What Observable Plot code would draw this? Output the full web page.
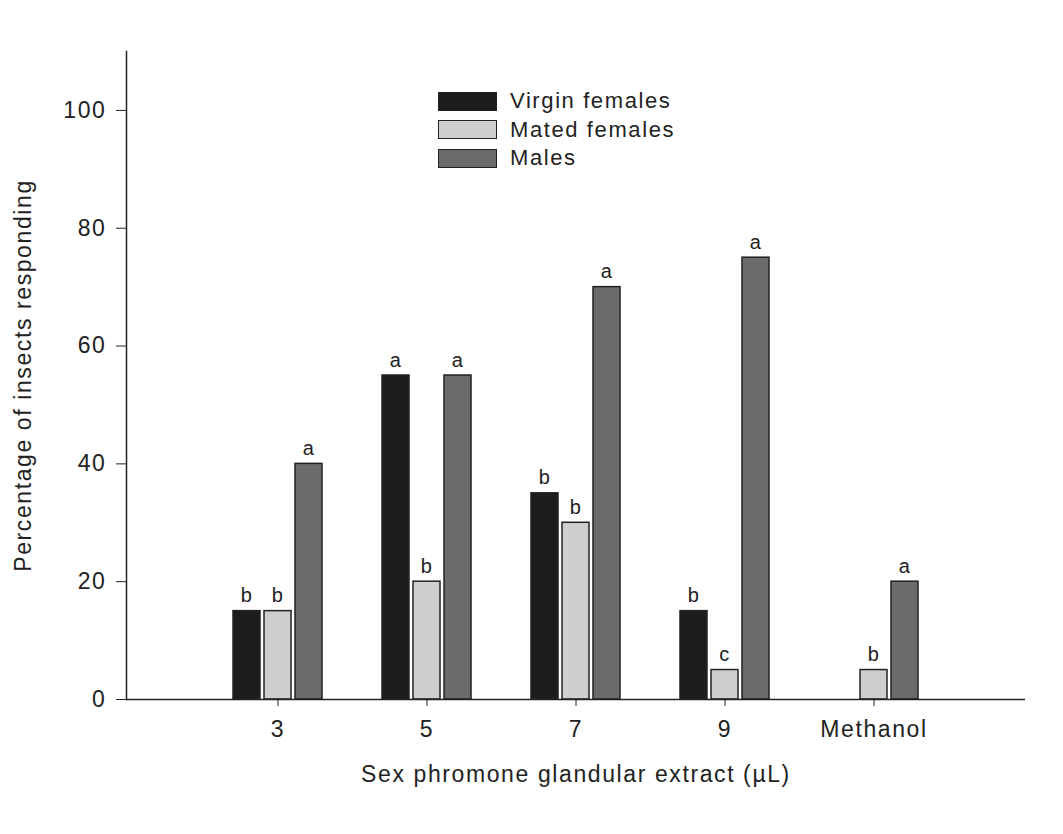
<!DOCTYPE html>
<html><head><meta charset="utf-8">
<script src="https://cdn.jsdelivr.net/npm/d3@7"></script>
<script src="https://cdn.jsdelivr.net/npm/@observablehq/plot@0.6"></script>
<style>
body{margin:0;background:#fff;font-family:"Liberation Sans",Arial,sans-serif;}
#wrap{position:relative;width:1063px;height:834px;}
.legend{position:absolute;left:438px;top:87px;}
.row{display:flex;align-items:center;height:28.5px;}
.sw{width:57px;height:17px;border:1.5px solid #222;margin-right:13px;}
.lab{font-size:22px;letter-spacing:1.6px;color:#222;line-height:1;}
</style></head><body><div id="wrap"></div>
<script>
const categories = ["3", "5", "7", "9", "Methanol"];
const series = ["Virgin females", "Mated females", "Males"];
const virgin = [15, 55, 35, 15, null];
const mated = [15, 20, 30, 5, 5];
const males = [40, 55, 70, 75, 20];
const virginLetters = ["b", "a", "b", "b", ""];
const matedLetters = ["b", "b", "b", "c", "b"];
const malesLetters = ["a", "a", "a", "a", "a"];
const yTicks = [0, 20, 40, 60, 80, 100];
const colors = ["#1f1c1f", "#cfcfcf", "#6b6b6b"];

const values = [virgin, mated, males];
const letters = [virginLetters, matedLetters, malesLetters];
const seriesData = series.map((s, k) =>
  categories.map((c, i) => ({cat: c, series: s, value: values[k][i], letter: letters[k][i]}))
    .filter(d => d.value != null));

const place = [
  {insetLeft: 0, insetRight: 62, dx: -31},
  {insetLeft: 31, insetRight: 31, dx: 0},
  {insetLeft: 62, insetRight: 0, dx: 31}
];

const marks = [];
seriesData.forEach((data, k) => {
  marks.push(Plot.barY(data, {x: "cat", y: "value", fill: colors[k], stroke: "#222", strokeWidth: 1.5,
    insetLeft: place[k].insetLeft, insetRight: place[k].insetRight}));
  marks.push(Plot.text(data, {x: "cat", y: "value", text: "letter", dx: place[k].dx, dy: -9,
    lineAnchor: "bottom", fontSize: 20, fill: "#222"}));
});

const plot = Plot.plot({
  width: 1063, height: 834,
  marginLeft: 126, marginRight: 38, marginTop: 51, marginBottom: 135,
  style: {fontFamily: "'Liberation Sans', Arial, sans-serif", color: "#222", letterSpacing: "1.6px", background: "#fff"},
  x: {domain: categories, paddingInner: 0.4, paddingOuter: 0.7},
  y: {domain: [0, 110]},
  marks: [
    ...marks,
    Plot.ruleY([0], {stroke: "#222", strokeWidth: 1.5}),
    Plot.frame({anchor: "left", stroke: "#222", strokeWidth: 1.5}),
    Plot.axisY({ticks: yTicks, tickSize: 10, tickPadding: 10, fontSize: 23,
      label: "Percentage of insects responding", labelAnchor: "center", labelArrow: "none", labelOffset: 112}),
    Plot.axisX({tickSize: 7, tickPadding: 14, fontSize: 23,
      label: "Sex phromone glandular extract (µL)", labelAnchor: "center", labelArrow: "none", labelOffset: 82})
  ]
});

const wrap = document.getElementById("wrap");
wrap.appendChild(plot);
const legend = document.createElement("div");
legend.className = "legend";
series.forEach((s, k) => {
  const row = document.createElement("div");
  row.className = "row";
  const sw = document.createElement("div");
  sw.className = "sw";
  sw.style.background = colors[k];
  const lab = document.createElement("span");
  lab.className = "lab";
  lab.textContent = s;
  row.appendChild(sw); row.appendChild(lab);
  legend.appendChild(row);
});
wrap.appendChild(legend);
</script></body></html>
